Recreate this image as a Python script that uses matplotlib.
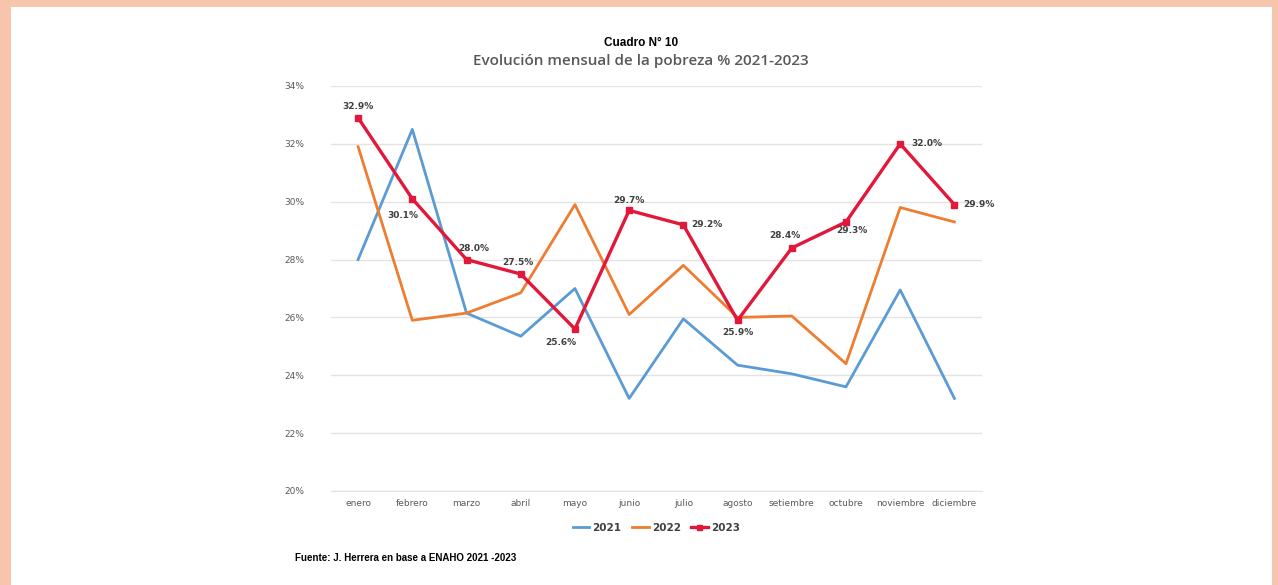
import matplotlib.pyplot as plt
from matplotlib.patches import Rectangle

meses = ["enero", "febrero", "marzo", "abril", "mayo", "junio", "julio",
         "agosto", "setiembre", "octubre", "noviembre", "diciembre"]
pobreza_2021 = [28.0, 32.5, 26.15, 25.35, 27.0, 23.2, 25.95, 24.35, 24.05, 23.6, 26.95, 23.2]
pobreza_2022 = [31.9, 25.9, 26.15, 26.85, 29.9, 26.1, 27.8, 26.0, 26.05, 24.4, 29.8, 29.3]
pobreza_2023 = [32.9, 30.1, 28.0, 27.5, 25.6, 29.7, 29.2, 25.9, 28.4, 29.3, 32.0, 29.9]
yticks = [20, 22, 24, 26, 28, 30, 32, 34]

# desplazamiento de etiquetas (puntos) para la serie 2023
offsets = [(0, 8), (-7, -12), (5, 8), (-2, 8), (-10, -10), (0, 7), (17, 0),
           (0, -9), (-5, 9), (4, -6), (19, 0), (18, 0)]

fig = plt.figure(figsize=(12.78, 5.85), dpi=100)
fig.patch.set_facecolor("#F7C4AC")
fig.add_artist(Rectangle((11 / 1278, 0), 1261 / 1278, 1 - 7 / 585,
                         transform=fig.transFigure, facecolor="white",
                         edgecolor="none", zorder=0))

ax = fig.add_axes([0.259, 0.1607, 0.509, 0.6923])
ax.set_facecolor("none")
x = list(range(len(meses)))

ax.plot(x, pobreza_2021, color="#5B9BD5", lw=2, label="2021", zorder=3)
ax.plot(x, pobreza_2022, color="#ED7D31", lw=2, label="2022", zorder=3)
ax.plot(x, pobreza_2023, color="#E2183A", lw=2.4, marker="s", ms=4.5,
        label="2023", zorder=4)

for i, v in enumerate(pobreza_2023):
    dx, dy = offsets[i]
    ax.annotate(f"{v:.1f}%", (i, v), xytext=(dx, dy), textcoords="offset points",
                ha="center", va="center", fontsize=6.5, color="#404040",
                fontweight="bold", zorder=5)

ax.set_xlim(-0.5, 11.5)
ax.set_ylim(20, 34)
ax.set_yticks(yticks)
ax.set_yticklabels([f"{t}%" for t in yticks])
ax.set_xticks(x)
ax.set_xticklabels(meses)
ax.tick_params(length=0, labelsize=6.5, labelcolor="#595959")
ax.tick_params(axis="y", pad=19)
ax.tick_params(axis="x", pad=6)
ax.grid(axis="y", color="#E3E3E3", lw=1)
ax.set_axisbelow(True)
for s in ax.spines.values():
    s.set_visible(False)
ax.spines["bottom"].set_visible(True)
ax.spines["bottom"].set_color("#E3E3E3")

leg = ax.legend(loc="upper center", bbox_to_anchor=(0.5, -0.055), ncol=3,
                frameon=False, fontsize=7.5, handlelength=1.6, columnspacing=1.0,
                handletextpad=0.3, markerscale=0.8)
for t in leg.get_texts():
    t.set_color("#404040")
    t.set_fontweight("bold")

fig.text(0.5015, 1 - 43 / 585, "Cuadro N° 10", ha="center", va="center",
         fontsize=8.5, fontweight="bold", family="Liberation Sans")
fig.text(0.5015, 1 - 61 / 585, "Evolución mensual de la pobreza % 2021-2023",
         ha="center", va="center", fontsize=11, color="#595959",
         family="Open Sans", fontweight="semibold")
fig.text(295 / 1278, 1 - 558 / 585, "Fuente: J. Herrera en base a ENAHO 2021 -2023",
         ha="left", va="center", fontsize=7, fontweight="bold",
         family="Liberation Sans")

fig.savefig("out.png", dpi=100, facecolor=fig.get_facecolor())
